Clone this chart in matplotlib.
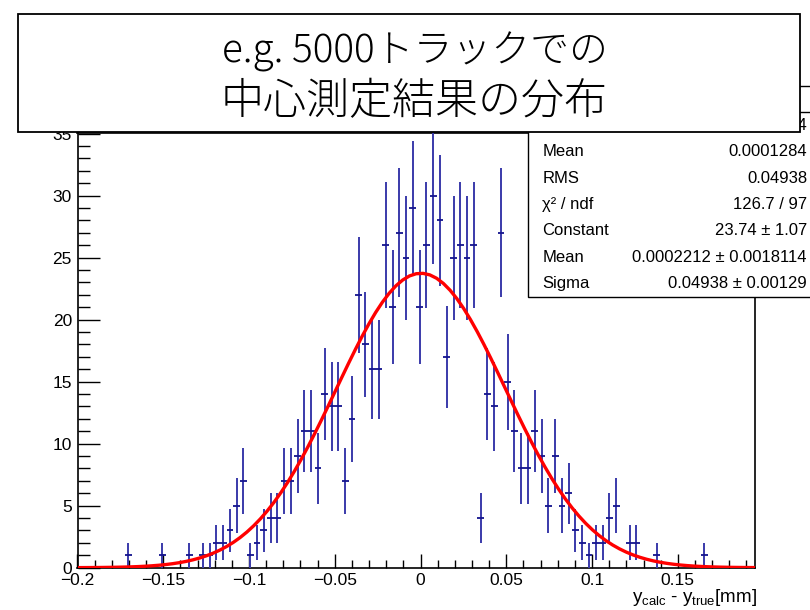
import numpy as np
import matplotlib
matplotlib.use("Agg")
import matplotlib.pyplot as plt
from matplotlib.patches import Rectangle
from matplotlib.ticker import FixedLocator, MultipleLocator

plt.rcParams['font.family'] = ['Liberation Sans', 'DejaVu Sans']
plt.rcParams['mathtext.fontset'] = 'custom'
plt.rcParams['mathtext.rm'] = 'Liberation Sans'
plt.rcParams['mathtext.it'] = 'Liberation Sans:italic'

# ---- histogram of reconstructed minus true position ----
x_min, x_max, n_bins = -0.2, 0.195, 100
counts = [
    0, 0, 0, 0, 0, 0, 0, 1, 0, 0,
    0, 0, 1, 0, 0, 0, 1, 0, 1, 1,
    2, 2, 3, 5, 7, 1, 2, 3, 4, 4,
    7, 7, 9, 11, 11, 8, 14, 13, 13, 7,
    12, 22, 18, 16, 16, 26, 21, 27, 25, 29,
    21, 26, 30, 28, 17, 25, 26, 25, 26, 4,
    14, 13, 27, 15, 11, 8, 8, 11, 9, 5,
    9, 5, 6, 3, 2, 1, 2, 2, 4, 5,
    0, 2, 2, 0, 0, 1, 0, 0, 0, 0,
    0, 0, 1, 0, 0, 0, 0, 0, 0, 0,
]

# gaussian fit result
fit_constant = 23.74
fit_mean = 0.0002212
fit_sigma = 0.04938

# statistics box
entries_value = "744"
stat_labels = ["Mean", "RMS", "χ² / ndf", "Constant", "Mean", "Sigma"]
stat_values = ["0.0001284", "0.04938", "126.7 / 97", "23.74 ± 1.07",
               "0.0002212 ± 0.0018114", "0.04938 ± 0.00129"]

xtick_values = [-0.2, -0.15, -0.1, -0.05, 0.0, 0.05, 0.1, 0.15]
xtick_labels = ["−0.2", "−0.15", "−0.1", "−0.05", "0", "0.05", "0.1", "0.15"]
ytick_values = [0, 5, 10, 15, 20, 25, 30, 35]
ytick_labels = ["0", "5", "10", "15", "20", "25", "30", "35"]
x_title = r"$\mathregular{y_{calc}}$ - $\mathregular{y_{true}}$[mm]"

title_lines = ["e.g. 5000トラックでの", "中心測定結果の分布"]

# ---- figure ----
W, H = 810, 610
fig = plt.figure(figsize=(W / 100, H / 100), dpi=100)
fl, ft, fr, fb = 77.5, 133.0, 755.0, 567.7  # frame edges in pixels
ax = fig.add_axes([fl / W, (H - fb) / H, (fr - fl) / W, (fb - ft) / H])

edges = np.linspace(x_min, x_max, n_bins + 1)
centers = 0.5 * (edges[:-1] + edges[1:])
c = np.asarray(counts, dtype=float)
filled = c > 0
err = np.sqrt(c)

ax.vlines(centers[filled], (c - err)[filled], (c + err)[filled],
          color="#3a3aaa", lw=1.4, zorder=3)
ax.hlines(c[filled], edges[:-1][filled], edges[1:][filled],
          color="#14148e", lw=1.3, zorder=3)

xf = np.linspace(x_min, x_max, 101)
yf = fit_constant * np.exp(-0.5 * ((xf - fit_mean) / fit_sigma) ** 2)
ax.plot(xf, yf, color="#ff0000", lw=2.4, zorder=4)

ax.set_xlim(x_min, x_max)
ax.set_ylim(0, 35.05)

ax.xaxis.set_major_locator(FixedLocator(xtick_values))
ax.set_xticklabels(xtick_labels)
ax.xaxis.set_minor_locator(MultipleLocator(0.01))
ax.yaxis.set_major_locator(FixedLocator(ytick_values))
ax.set_yticklabels(ytick_labels)
ax.yaxis.set_minor_locator(MultipleLocator(1))

ax.tick_params(axis="x", which="major", direction="in", length=10, width=1.0,
               labelsize=12.5, pad=4, colors="black")
ax.tick_params(axis="x", which="minor", direction="in", length=5.5, width=1.0)
ax.tick_params(axis="y", which="major", direction="in", length=15.5, width=1.0,
               labelsize=12.5, pad=4)
ax.tick_params(axis="y", which="minor", direction="in", length=8.8, width=1.0)
for s in ax.spines.values():
    s.set_linewidth(1.2)

# ---- overlay in pixel coordinates ----
ov = fig.add_axes([0, 0, 1, 1], zorder=10)
ov.set_xlim(0, W)
ov.set_ylim(H, 0)
ov.axis("off")

# statistics box
sb_left, sb_top, sb_bottom = 527.5, 86.0, 297.0
ov.add_patch(Rectangle((sb_left, sb_top), W - sb_left + 20, sb_bottom - sb_top,
                       facecolor="white", edgecolor="black", lw=1.0, zorder=1))
ov.plot([sb_left, W + 5], [111.5, 111.5], color="black", lw=1.0, zorder=2)
row0, dy = 152.0, 26.3
ov.text(807, row0 - dy, entries_value, ha="right", va="center", fontsize=12, zorder=2)
for k, (lab, val) in enumerate(zip(stat_labels, stat_values)):
    y = row0 + k * dy
    ov.text(542.5, y, lab, ha="left", va="center", fontsize=12, zorder=2)
    ov.text(807, y, val, ha="right", va="center", fontsize=12, zorder=2)

# axis title
ov.text(757, 602, x_title, ha="right", va="baseline", fontsize=13.5, zorder=2)

# title box
ov.add_patch(Rectangle((18, 14), 782, 118, facecolor="white",
                       edgecolor="black", lw=1.3, zorder=5))
cjk = ["Noto Sans CJK JP", "DejaVu Sans"]
ov.text(415, 63, title_lines[0], ha="center", va="baseline", fontsize=28,
        family=cjk, fontweight="light", zorder=6)
ov.text(414, 114, title_lines[1], ha="center", va="baseline", fontsize=31,
        family=cjk, fontweight="light", zorder=6)

fig.savefig("out.png", dpi=100)
